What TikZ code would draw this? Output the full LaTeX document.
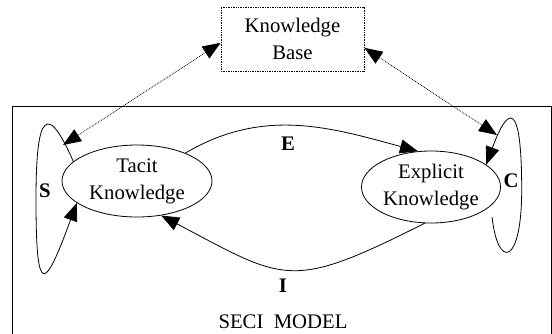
\documentclass[tikz,border=0pt]{standalone}
\usepackage{fontspec}
\setmainfont{Liberation Serif}
\usetikzlibrary{arrows.meta,shapes.geometric}

\begin{document}
\begin{tikzpicture}[x=1bp,y=-1bp,
		every node/.style={font=\fontsize{20.8}{27}\selectfont},
		idea/.style={draw,ellipse,line width=0.8bp,inner sep=0pt,minimum height=72bp,align=center},
		kbbox/.style={draw,densely dotted,line width=0.7bp,minimum width=143bp,minimum height=64bp,align=center},
		seci/.style={line width=0.8bp,-{Triangle[length=18bp,width=14bp]}},
		kblink/.style={line width=0.8bp,densely dotted,{Triangle[length=18bp,width=14bp]}-{Triangle[length=18bp,width=14bp]}},
		letter/.style={font=\fontsize{20.8}{27}\selectfont\bfseries}]
		\useasboundingbox (0,0) rectangle (552,333);
		\draw[line width=0.8bp] (12,340) -- (12,106) -- (551,106) -- (551,340);
		\node[kbbox] (kb) at (292.5,39) {Knowledge\\Base};
		\node[idea,minimum width=150bp] (tacit) at (137,181) {Tacit\\Knowledge};
		\node[idea,minimum width=139bp] (explicit) at (431,187) {Explicit\\Knowledge};
		\coordinate (s top) at (63,145);
		\coordinate (c top) at (497,135);
		\coordinate (s left) at (36,200);
		\coordinate (c right) at (521.7,190);
		\draw[seci] (tacit.30) .. controls +(78,-46) and +(-88,-24) .. (explicit.110);
		\draw[seci] (explicit.260) .. controls +(-135,68) and +(125,66) .. (tacit.-55);
		\draw[seci] (tacit.163) .. controls +(-32,-74) and +(0,-65) .. (s left) .. controls +(0,100) and +(-32,87) .. (tacit.200);
		\draw[seci] ([shift={(9,6)}]explicit.-25) .. controls +(6,53) and +(0,75) .. (c right) .. controls +(0,-90) and +(22,-60) .. (explicit.22);
		\draw[kblink] (kb.183) -- (s top);
		\draw[kblink] (kb.-7) -- (c top);
		\node[letter] (e) at (288,144) {E};
		\node[letter] (i) at (283,286) {I};
		\node[letter] (s) at (45,191) {S};
		\node[letter] (c) at (511,181) {C};
		\node (model) at (283,322) {SECI\ \ MODEL};
	\end{tikzpicture}
\end{document}
